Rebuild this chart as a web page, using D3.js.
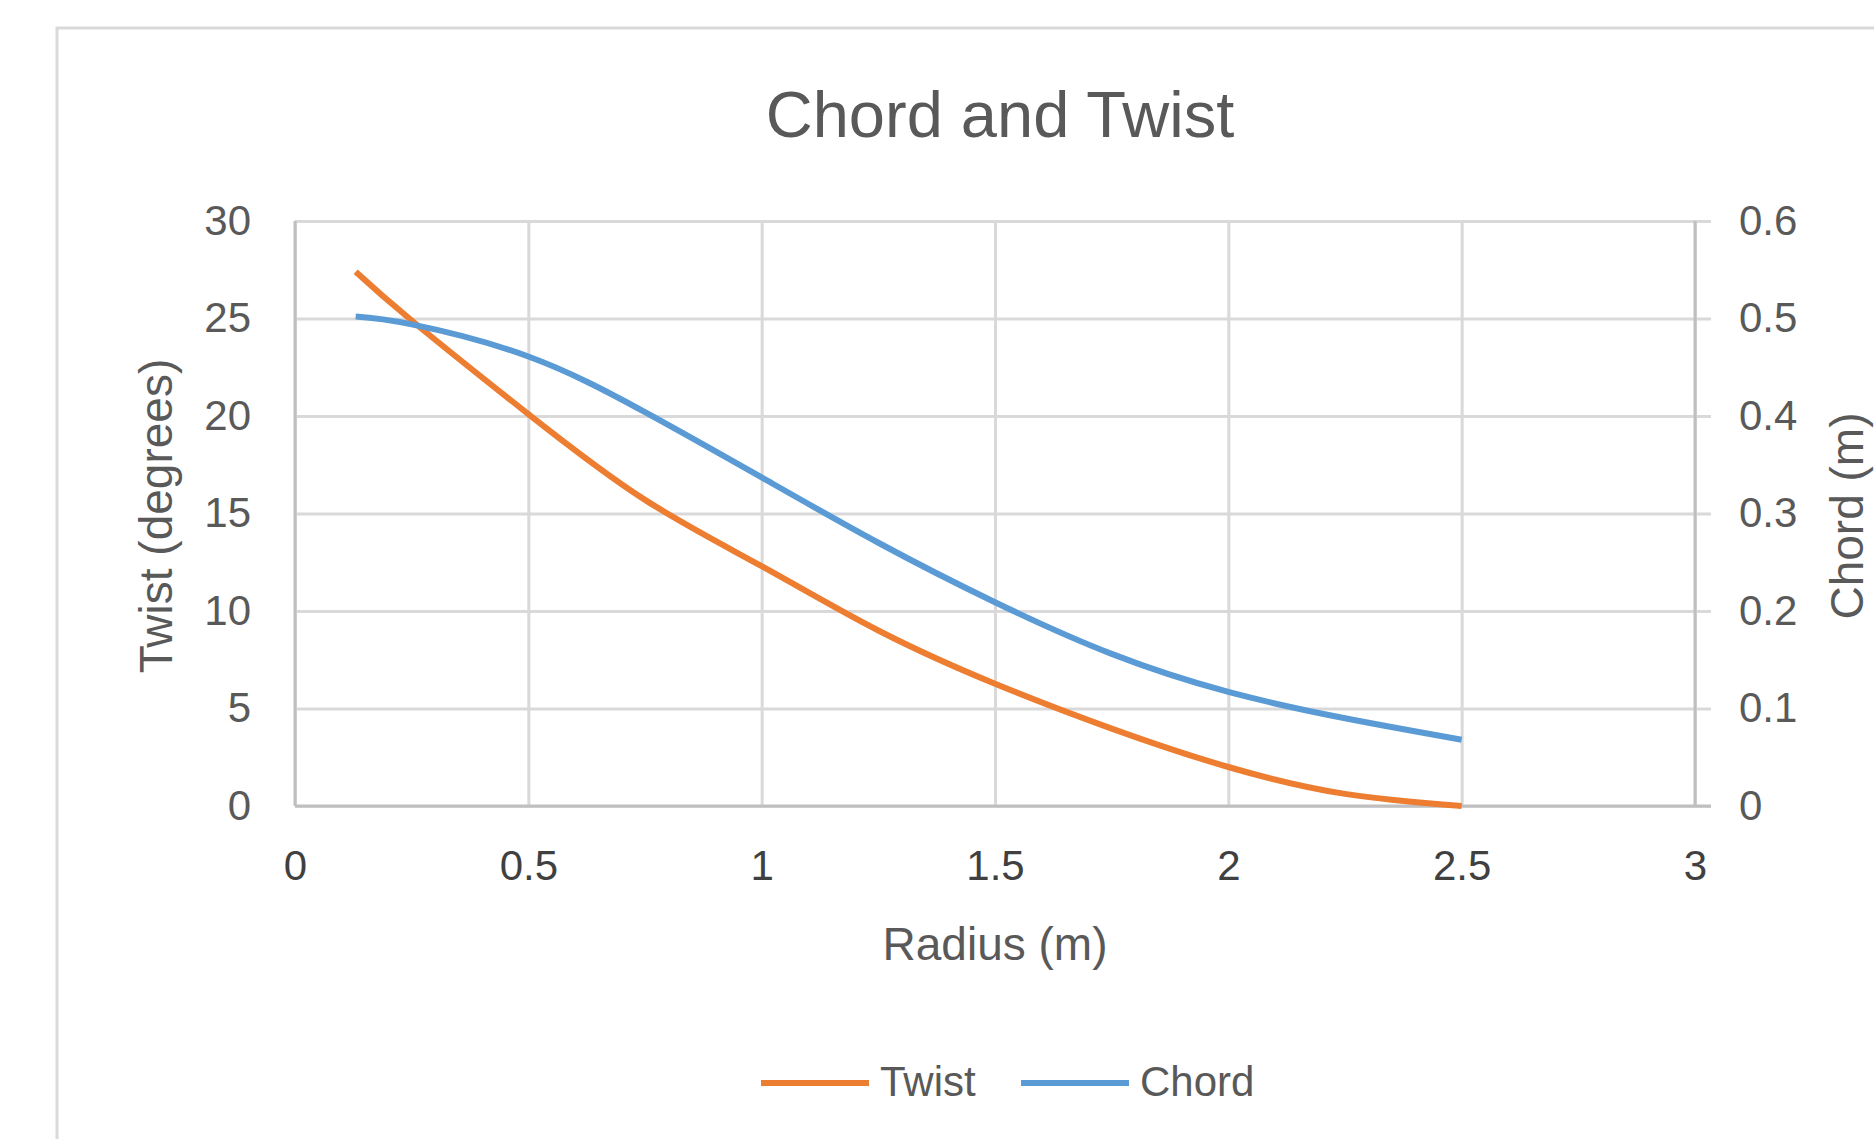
<!DOCTYPE html>
<html>
<head>
<meta charset="utf-8">
<script src="https://cdn.jsdelivr.net/npm/d3@7"></script>
<style>
  body { margin: 0; background: #fff; }
  text { font-family: "Liberation Sans", Arial, sans-serif; }
</style>
</head>
<body>
<div id="chart"></div>
<script>
/////////// DATOS /////////
var radius = [0.13, 0.25, 0.5, 0.75, 1.0, 1.25, 1.5, 1.75, 2.0, 2.25, 2.5];
var twist  = [27.4, 24.9, 20.1, 15.7, 12.3, 9.0, 6.27, 3.97, 2.0, 0.62, 0.0];
var chord  = [0.502, 0.494, 0.461, 0.404, 0.337, 0.270, 0.209, 0.156, 0.117, 0.090, 0.068];

var xTicks = [0, 0.5, 1, 1.5, 2, 2.5, 3];
var twistTicks = [0, 5, 10, 15, 20, 25, 30];
var chordTicks = [0, 0.1, 0.2, 0.3, 0.4, 0.5, 0.6];

var seriesNames = ["Twist", "Chord"];
var colores = ["#ED7D31", "#5B9BD5"];

/////////// DISTANCIA /////////
var W = 1874, H = 1139;
var margin = {top: 221, right: 179, bottom: 333, left: 295},
    width = W - margin.left - margin.right,
    height = H - margin.top - margin.bottom;

var svg = d3.select("#chart").append("svg")
    .attr("width", W)
    .attr("height", H);

// marco del gráfico
svg.append("rect")
    .attr("x", 57).attr("y", 28)
    .attr("width", W).attr("height", H)
    .attr("fill", "none")
    .attr("stroke", "#d9d9d9")
    .attr("stroke-width", 3);

var g = svg.append("g")
    .attr("transform", "translate(" + margin.left + "," + margin.top + ")");

/////////// ESCALAS /////////
var x = d3.scaleLinear().domain([0, 3]).range([0, width]);
var y = d3.scaleLinear().domain([0, 30]).range([height, 0]);
var y2 = d3.scaleLinear().domain([0, 0.6]).range([height, 0]);

/////////// GRID /////////
g.append("g")
    .attr("class", "grid")
    .attr("transform", "translate(" + width + ",0)")
    .call(d3.axisLeft(y).tickValues(twistTicks).tickSize(width).tickSizeOuter(0).tickFormat(""))
    .call(function(s) { s.select(".domain").remove(); })
    .selectAll("line").attr("stroke", "#d9d9d9").attr("stroke-width", 3);

// extensión a la derecha (marcas del eje derecho)
g.append("g")
    .attr("transform", "translate(" + width + ",0)")
    .call(d3.axisRight(y).tickValues(twistTicks).tickSize(16).tickFormat(""))
    .call(function(s) { s.select(".domain").remove(); })
    .selectAll("line").attr("stroke", "#d9d9d9").attr("stroke-width", 3);

g.append("g")
    .attr("class", "grid")
    .call(d3.axisTop(x).tickValues(xTicks).tickSize(-height).tickFormat(""))
    .call(function(s) { s.select(".domain").remove(); })
    .selectAll("line").attr("stroke", "#d9d9d9").attr("stroke-width", 3);

/////////// EJES /////////
// lineas de eje
g.append("line").attr("x1", 0).attr("x2", 0).attr("y1", 0).attr("y2", height)
    .attr("stroke", "#bfbfbf").attr("stroke-width", 3);
g.append("line").attr("x1", width).attr("x2", width).attr("y1", 0).attr("y2", height)
    .attr("stroke", "#bfbfbf").attr("stroke-width", 3);
g.append("line").attr("x1", 0).attr("x2", width + 16).attr("y1", height).attr("y2", height)
    .attr("stroke", "#bfbfbf").attr("stroke-width", 3);

// Eje Y (Twist)
g.append("g")
    .call(d3.axisLeft(y).tickValues(twistTicks).tickSize(0).tickPadding(44))
    .call(function(s) { s.select(".domain").remove(); })
    .selectAll("text")
    .attr("font-size", "42px")
    .attr("fill", "#595959")
    .style("font-family", "'Liberation Sans', Arial, sans-serif");

// Eje Y2 (Chord)
g.append("g")
    .attr("transform", "translate(" + width + ",0)")
    .call(d3.axisRight(y2).tickValues(chordTicks).tickSize(0).tickPadding(44).tickFormat(d3.format("")))
    .call(function(s) { s.select(".domain").remove(); })
    .selectAll("text")
    .attr("font-size", "42px")
    .attr("fill", "#595959")
    .style("font-family", "'Liberation Sans', Arial, sans-serif");

// Eje X
g.append("g")
    .attr("transform", "translate(0," + height + ")")
    .call(d3.axisBottom(x).tickValues(xTicks).tickSize(0).tickPadding(44).tickFormat(d3.format("")))
    .call(function(s) { s.select(".domain").remove(); })
    .selectAll("text")
    .attr("font-size", "42px")
    .attr("fill", "#404040")
    .style("font-family", "'Liberation Sans', Arial, sans-serif");

/////////// TÍTULOS /////////
svg.append("text")
    .attr("x", 1000).attr("y", 137)
    .attr("text-anchor", "middle")
    .attr("font-size", "65px")
    .attr("fill", "#595959")
    .text("Chord and Twist");

svg.append("text")
    .attr("x", margin.left + width / 2).attr("y", 960)
    .attr("text-anchor", "middle")
    .attr("font-size", "46px")
    .attr("fill", "#595959")
    .text("Radius (m)");

svg.append("text")
    .attr("transform", "translate(172,516) rotate(-90)")
    .attr("text-anchor", "middle")
    .attr("font-size", "46px")
    .attr("fill", "#595959")
    .text("Twist (degrees)");

svg.append("text")
    .attr("transform", "translate(1863,516) rotate(-90)")
    .attr("text-anchor", "middle")
    .attr("font-size", "46px")
    .attr("fill", "#595959")
    .text("Chord (m)");

///////// PINTAR DATOS /////////
var datos = radius.map(function(r, i) { return {r: r, t: twist[i], c: chord[i]}; });

g.append("path")
    .datum(datos)
    .attr("fill", "none")
    .attr("stroke", colores[0])
    .attr("stroke-width", 6)
    .attr("d", d3.line()
        .curve(d3.curveNatural)
        .x(function(d) { return x(d.r); })
        .y(function(d) { return y(d.t); }));

g.append("path")
    .datum(datos)
    .attr("fill", "none")
    .attr("stroke", colores[1])
    .attr("stroke-width", 6)
    .attr("d", d3.line()
        .curve(d3.curveNatural)
        .x(function(d) { return x(d.r); })
        .y(function(d) { return y2(d.c); }));

/////////// LEYENDA /////////
var legX = [761, 1021];
var ley = svg.append("g");
seriesNames.forEach(function(n, i) {
    ley.append("line")
        .attr("x1", legX[i]).attr("x2", legX[i] + 108)
        .attr("y1", 1083).attr("y2", 1083)
        .attr("stroke", colores[i]).attr("stroke-width", 6);
    ley.append("text")
        .attr("x", legX[i] + 119).attr("y", 1096)
        .attr("font-size", "42px")
        .attr("fill", "#595959")
        .text(n);
});
</script>
</body>
</html>
